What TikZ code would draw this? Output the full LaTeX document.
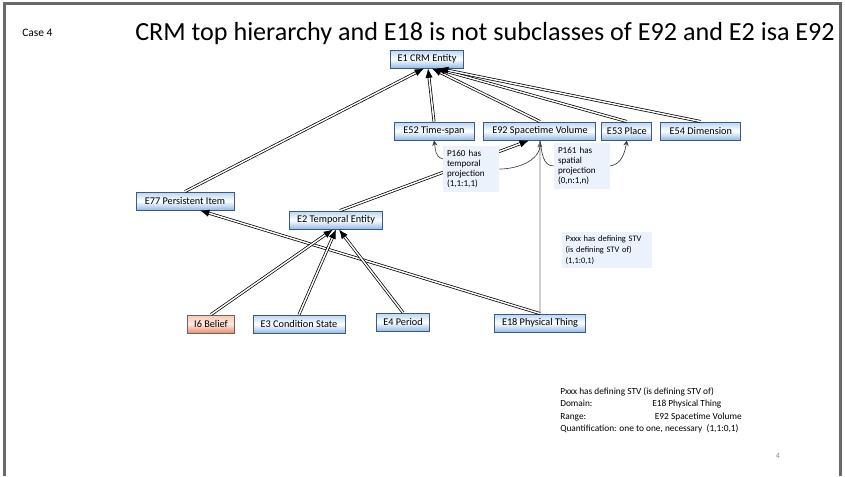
\documentclass[tikz,border=0pt]{standalone}
\usepackage{fontspec}
\setmainfont{Carlito}
\usetikzlibrary{calc}
\usetikzlibrary{arrows.meta,shapes}
\usetikzlibrary{positioning}
\definecolor{boxtop}{RGB}{185,213,240}
\definecolor{boxbot}{RGB}{145,188,232}
\definecolor{boxline}{RGB}{60,90,130}
\definecolor{belieftop}{RGB}{250,200,178}
\definecolor{beliefbot}{RGB}{238,140,105}
\definecolor{notefill}{RGB}{236,242,252}
\definecolor{framegray}{RGB}{105,105,105}
\newcommand{\nodefont}{\fontsize{7.7}{9}\selectfont}
\newcommand{\notefont}{\fontsize{6.8}{7.6}\selectfont}

\begin{document}
\begin{tikzpicture}[x=0.75pt,y=-0.75pt,
    cls/.style={draw=boxline,line width=0.7pt,top color=boxtop,bottom color=boxbot,middle color=white,minimum height=13.5pt,inner xsep=0pt,font=\nodefont},
    belief/.style={cls,top color=belieftop,bottom color=beliefbot,middle color=belieftop!40,draw=black!60},
    isa/.style={draw=black,line width=0.55pt,double=white,double distance=1.1pt,-{Latex[length=7pt,width=5.5pt]}},
    prop/.style={draw=black!75,line width=0.5pt},
    propend/.style={prop,-{Stealth[length=4pt,width=4pt]}},
    stv/.style={draw=black!55,line width=0.5pt,-{Latex[length=5pt,width=4pt]}},
    note/.style={fill=notefill,align=left,font=\notefont,inner sep=3pt}]
  \useasboundingbox (0,0) rectangle (845,476);
  \draw[framegray,line width=1.6pt] (4.5,476) -- (4.5,3.5) -- (840.5,3.5) -- (840.5,476);
  \node[anchor=base west,inner sep=0pt,font=\fontsize{8.6}{10}\selectfont] (case) at (22,36) {Case 4};
  \node[anchor=base west,inner sep=0pt,font=\fontsize{19.6}{22}\selectfont] (title) at (135,40)
    {CRM top hierarchy and E18 is not subclasses of E92 and E2 isa E92};

  \node[cls,minimum width=54.75pt] (E1) at (427,59) {E1 CRM Entity};
  \node[cls,minimum width=60pt] (E52) at (434,131) {E52 Time-span};
  \node[cls,minimum width=84pt,right=6.75pt of E52] (E92) {E92 Spacetime Volume};
  \node[cls,minimum width=37.5pt,right=3.75pt of E92] (E53) {E53 Place};
  \node[cls,minimum width=60pt,right=6pt of E53] (E54) {E54 Dimension};
  \node[cls,minimum width=73.5pt] (E77) at (185,201) {E77 Persistent Item};
  \node[cls,minimum width=69.75pt] (E2) at (336,220) {E2 Temporal Entity};
  \node[belief,minimum width=35.25pt] (I6) at (211,324) {I6 Belief};
  \node[cls,minimum width=69pt] (E3) at (299,324) {E3 Condition State};
  \node[cls,minimum width=39.75pt] (E4) at (403,322) {E4 Period};
  \node[cls,minimum width=68.25pt] (E18) at (540,323) {E18 Physical Thing};

  \draw[isa] (E77.north) -- ($(E1.south)+(-3,0)$);
  \draw[isa] (E52.north) -- ($(E1.south)+(1,0)$);
  \draw[isa] (E92.north) -- ($(E1.south)+(5,0)$);
  \draw[isa] (E53.north) -- ($(E1.south)+(9,0)$);
  \draw[isa] (E54.north) -- ($(E1.south)+(12,0)$);
  \draw[isa] ($(E2.north)+(4,0)$) -- ($(E92.south)+(-11,0)$);
  \draw[isa] (E18.north) -- ($(E77.south)+(15,0)$);
  \draw[isa] (I6.north) -- ($(E2.south)+(-3,0)$);
  \draw[isa] (E3.north) -- (E2.south);
  \draw[isa] (E4.north) -- ($(E2.south)+(3,0)$);

  \node[note,text width=36pt] (P160) at (471,169) {P160 has\\temporal\\projection\\(1,1:1,1)};
  \node[note,text width=36pt] (P161) at (582,166) {P161 has\\spatial\\projection\\(0,n:1,n)};
  \node[note,text width=62pt,font=\fontsize{6.3}{8.2}\selectfont] (Pxxx) at (607,250) {Pxxx has defining STV\\(is defining STV of)\\(1,1:0,1)};

  \draw[stv] (E18.north) -- (E92.south);
  \draw[prop] (E92.south) to[out=-80,in=0] (P160.east);
  \draw[propend] (P160.160) to[out=170,in=-80] (E52.south);
  \draw[prop] (E92.south) to[out=-80,in=180] (P161.west);
  \draw[propend] (P161.east) to[out=10,in=-100] (E53.south);

  \node[anchor=north west,align=left,inner sep=0pt,font=\fontsize{7}{9.4}\selectfont] (defn) at (560,387)
    {Pxxx has defining STV (is defining STV of)\\
     \makebox[69pt][l]{Domain:}E18 Physical Thing\\
     \makebox[71pt][l]{Range:}E92 Spacetime Volume\\
     Quantification: one to one, necessary\ \ (1,1:0,1)};
  \node[font=\fontsize{6}{7}\selectfont,text=black!45] (pgno) at (778,456) {4};
\end{tikzpicture}
\end{document}
